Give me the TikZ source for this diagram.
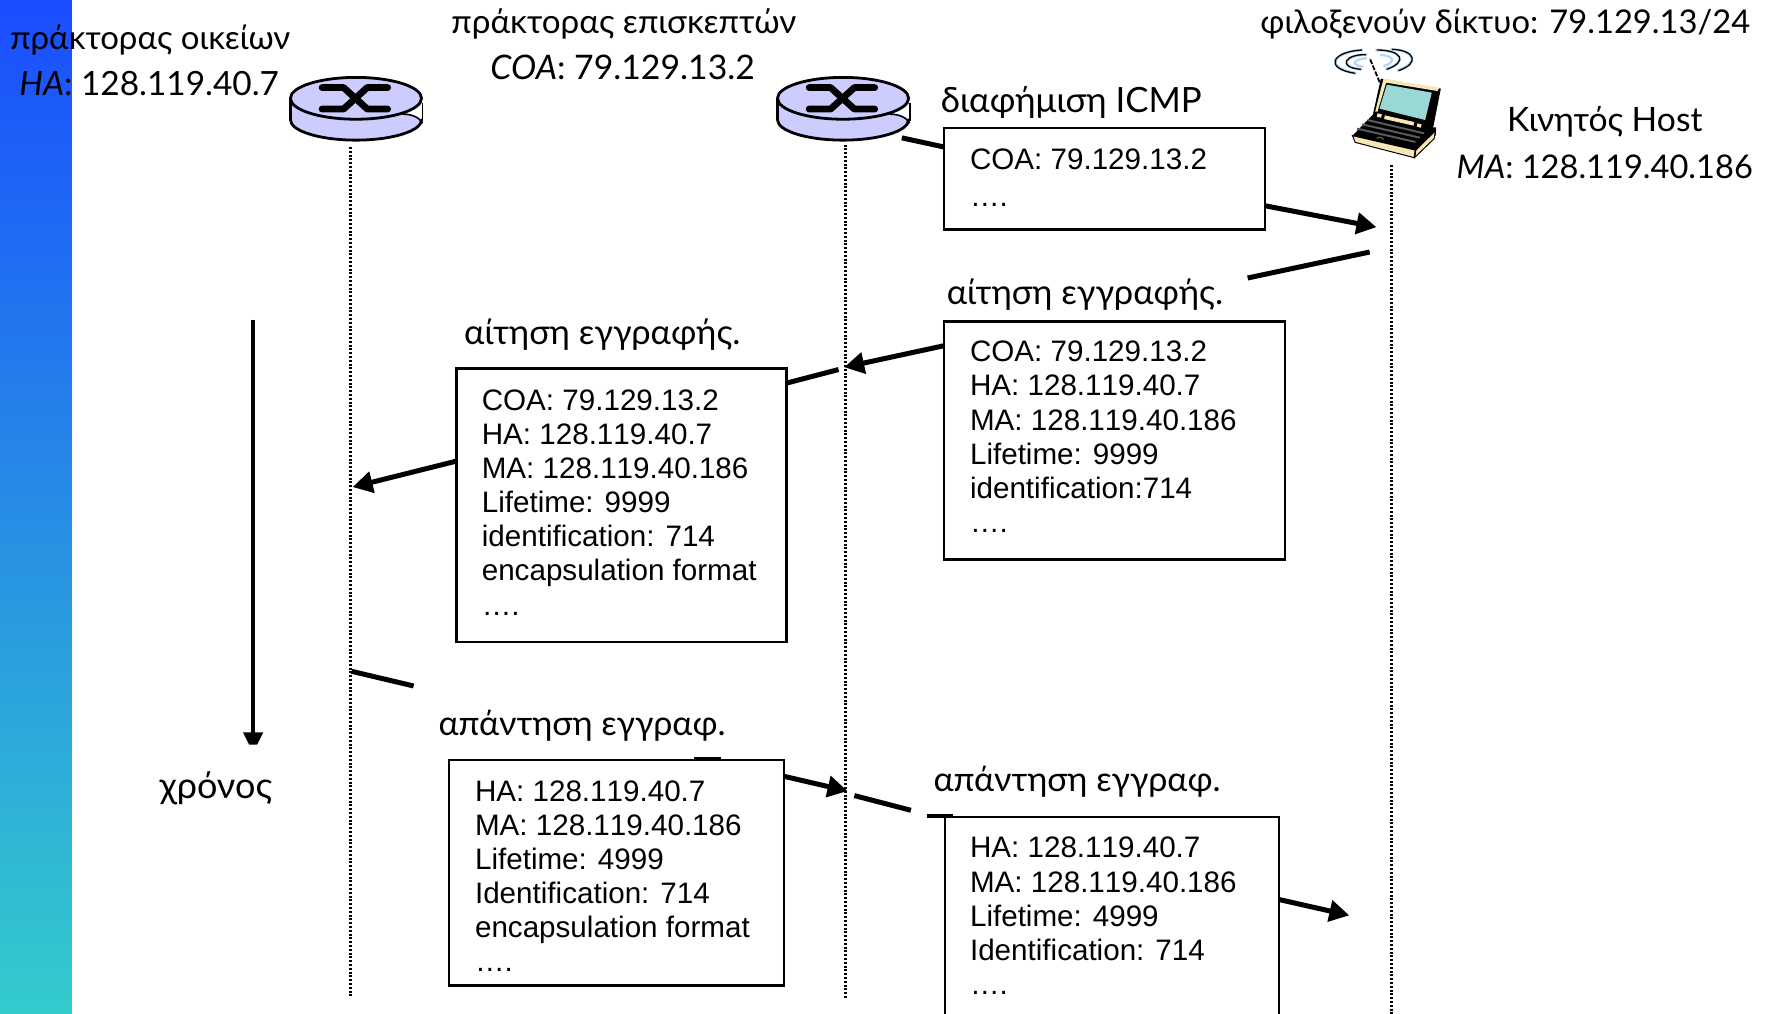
\documentclass[tikz,border=0pt]{standalone}
\usepackage{fontspec}
\setmainfont[Kerning=Off]{Liberation Sans}
\newfontfamily\handfont{Lato}
\usetikzlibrary{arrows.meta,fit}
\definecolor{barTop}{HTML}{1A4DFF}
\definecolor{barBot}{HTML}{33CCCC}
\definecolor{routerFill}{HTML}{CCCCFF}
\definecolor{lapCream}{HTML}{F7E7B5}
\definecolor{lapTeal}{HTML}{9AD8D6}
\definecolor{lapGrey}{HTML}{5A5A5A}
\definecolor{waveBlue}{HTML}{B5D5F0}
\tikzset{
  handlabel/.style={font=\handfont\fontsize{#1}{18}\selectfont,inner sep=0pt,text=black},
  msgbox/.style={draw=black,line width=1.1pt,fill=white,inner sep=0pt},
  msgtext/.style={font=\fontsize{14.8}{17.05}\selectfont,inner sep=0pt,align=left,anchor=north west},
  lifeline/.style={line width=1.5pt,dash pattern=on 1pt off 0.9pt},
  msgline/.style={line width=2.5pt},
  msgarrow/.style={line width=2.5pt,-{Triangle[length=10pt,width=10.5pt]}},
  timeline/.style={line width=2pt},
  router/.pic={
    \fill[routerFill] (-58,0) -- (-58,19) arc[start angle=180,end angle=0,x radius=58,y radius=18] -- (58,0) -- cycle;
    \fill[white] (59,3) -- (59,22) .. controls (56,17) and (50,14) .. (41,14) -- cycle;
    \draw[line width=1.4pt,line cap=round] (-58,0) -- (-58,19) arc[start angle=180,end angle=0,x radius=58,y radius=18];
    \draw[line width=0.8pt] (59,4) -- (59,20);
    \draw[line width=0.8pt] (41,14) .. controls (50,14) and (56,17) .. (59,22);
    \draw[line width=1.4pt,fill=routerFill] (0,0) ellipse[x radius=58,y radius=18.5];
    \draw[line width=3.4pt,line cap=round,line join=round] (-30,-9.5) -- (-11,-9.5) -- (10,9.5) -- (28,9.5);
    \draw[line width=3.4pt,line cap=round,line join=round] (-30,9.5) -- (-11,9.5) -- (10,-9.5) -- (28,-9.5);
  }
}
\begin{document}
\begin{tikzpicture}[x=0.565pt,y=-0.565pt]
\useasboundingbox (0,0) rectangle (1568,897);
\clip (0,0) rectangle (1568,897);
% side band
\shade[top color=barTop,bottom color=barBot] (0,0) rectangle (63.7,897);

% routers
\coordinate (r1) at (315,87);
\coordinate (r2) at (746,87);
\pic at (r1) {router};
\pic at (r2) {router};

% laptop
\begin{scope}[xshift=660pt,yshift=-20pt,x=0.16667pt,y=-0.16667pt]
  \foreach \c/\w/\o in {waveBlue/1.4pt/4,black/0.65pt/0}{
    \draw[\c,line width=\w] (125+\o,30) .. controls (35,35) and (10,85) .. (105+\o,100);
    \draw[\c,line width=\w] (138+\o,44) .. controls (75,42) and (50,82) .. (122+\o,88);
    \draw[\c,line width=\w] (215-\o,28) .. controls (285,30) and (300,70) .. (235-\o,92);
    \draw[\c,line width=\w] (170-\o,30) .. controls (245,30) and (265,65) .. (200-\o,88);
  }
  \draw[waveBlue,line width=1.1pt] (140,55) .. controls (105,55) and (85,75) .. (130,80);
  \draw[waveBlue,line width=1.1pt] (180,45) .. controls (220,45) and (230,68) .. (190,78);
  \draw[line width=0.9pt,dash pattern=on 2.5pt off 0.8pt] (150,58) -- (180,130);
  % base
  \fill[black] (160,222) -- (335,262) -- (347,262) -- (347,285) -- (285,337) -- (97,287) -- cycle;
  \fill[lapCream,draw=black,line width=0.5pt] (97,287) -- (285,330) -- (282,353) -- (105,307) -- cycle;
  \fill[lapCream,draw=black,line width=0.5pt] (287,330) -- (346,272) -- (342,296) -- (284,352) -- cycle;
  \foreach \d in {0,13,26}{
    \draw[lapGrey,line width=1pt] (142-\d*1.2,240+\d) -- (312-\d*1,280+\d);
  }
  \draw[lapGrey,line width=0.7pt] (170,295) .. controls (178,288) and (185,292) .. (190,298);
  % lid
  \fill[black] (182,116) -- (362,146) -- (338,268) -- (158,225) -- cycle;
  \fill[lapCream] (190,116) -- (358,143) -- (352,153) -- (198,128) -- (172,215) -- (165,215) -- cycle;
  \fill[lapTeal] (200,134) -- (335,158) -- (315,240) -- (178,206) -- cycle;
  \fill[lapCream] (172,220) -- (185,223) -- (183,233) -- (170,230) -- cycle;
  \fill[lapCream] (194,226) -- (282,246) -- (280,257) -- (192,237) -- cycle;
  \fill[lapCream] (292,250) -- (304,253) -- (302,263) -- (290,260) -- cycle;
\end{scope}

% life lines
\coordinate (l1a) at (310,130); \coordinate (l1b) at (310,883);
\coordinate (l2a) at (748,128); \coordinate (l2b) at (748,883);
\coordinate (l3a) at (1231,146); \coordinate (l3b) at (1231,897);
\draw[lifeline] (l1a) -- (l1b);
\draw[lifeline] (l2a) -- (l2b);
\draw[lifeline] (l3a) -- (l3b);

% small remains of the hidden connectors
\coordinate (s1a) at (614,671.5); \coordinate (s1b) at (638,671.5);
\coordinate (s2a) at (820,722); \coordinate (s2b) at (843,722);
\draw[line width=1.6pt] (s1a) -- (s1b);
\draw[line width=1.6pt] (s2a) -- (s2b);

% message boxes
\node[msgbox,fit={(835.5,113) (1119,203)}] (b1) {};
\node[msgbox,fit={(835.5,284.5) (1137,495)}] (b2) {};
\node[msgbox,fit={(404,326) (696,568)}] (b3) {};
\node[msgbox,fit={(397.5,672.5) (694,872)}] (b4) {};
\node[msgbox,fit={(836,723) (1132,905)}] (b5) {};

\node[msgtext] (t1) at (858,131) {COA: 79.129.13.2\\[1.6pt]….};
\node[msgtext] (t2) at (858,301.5) {COA: 79.129.13.2\\HA: 128.119.40.7\\MA: 128.119.40.186\\Lifetime: 9999\\identification:714\\….};
\node[msgtext] (t3) at (426,344.5) {COA: 79.129.13.2\\HA: 128.119.40.7\\MA: 128.119.40.186\\Lifetime: 9999\\identification: 714\\encapsulation format\\….};
\node[msgtext] (t4) at (420,690.5) {HA: 128.119.40.7\\MA: 128.119.40.186\\Lifetime: 4999\\Identification: 714\\encapsulation format\\….};
\node[msgtext] (t5) at (858,740.5) {HA: 128.119.40.7\\MA: 128.119.40.186\\Lifetime: 4999\\Identification: 714\\….};

% connectors
\coordinate (c1a) at (798,122); \coordinate (c1b) at (835,130);
\coordinate (c1c) at (1119,182); \coordinate (c1d) at (1218,201);
\draw[msgline] (c1a) -- (c1b);
\draw[msgarrow] (c1c) -- (c1d);

\coordinate (c2a) at (1212,223); \coordinate (c2b) at (1104,246);
\coordinate (c2c) at (835,306); \coordinate (c2d) at (747,325);
\coordinate (c2e) at (742,327); \coordinate (c2f) at (696,339);
\coordinate (c2g) at (404,408); \coordinate (c2h) at (312,431);
\draw[msgline] (c2a) -- (c2b);
\draw[msgarrow] (c2c) -- (c2d);
\draw[msgline] (c2e) -- (c2f);
\draw[msgarrow] (c2g) -- (c2h);

\coordinate (c3a) at (311,594); \coordinate (c3b) at (366,607);
\coordinate (c3c) at (694,687); \coordinate (c3d) at (750,700);
\coordinate (c3e) at (756,704); \coordinate (c3f) at (806,717);
\coordinate (c3g) at (1132,796); \coordinate (c3h) at (1194,810);
\draw[msgline] (c3a) -- (c3b);
\draw[msgarrow] (c3c) -- (c3d);
\draw[msgline] (c3e) -- (c3f);
\draw[msgarrow] (c3g) -- (c3h);

% time arrow
\coordinate (ta) at (224,283); \coordinate (tb) at (224,650);
\draw[timeline] (ta) -- (tb);
\fill (215,648) -- (233,648) -- (227.5,659) -- (220.5,659) -- cycle;

% labels
\node[handlabel=16.5] (n1) at (133,35.5) {πράκτορας οικείων};
\node[handlabel=16.7] (n2) at (132,74) {\textit{HA}: 128.119.40.7};
\node[handlabel=16.6] (n3) at (552,21) {πράκτορας επισκεπτών};
\node[handlabel=16.9] (n4) at (551,60) {\textit{COA}: 79.129.13.2};
\node[handlabel=16.35] (n5) at (1332,21) {φιλοξενούν δίκτυο: 79.129.13/24};
\node[handlabel=16.8] (n6) at (1420,108) {Κινητός Host};
\node[handlabel=16.3] (n7) at (1420,148) {\textit{MA}: 128.119.40.186};
\node[handlabel=17.4] (n8) at (948,90.5) {διαφήμιση ICMP};
\node[handlabel=17.2] (n9) at (960,260.5) {αίτηση εγγραφής.};
\node[handlabel=17.2] (n10) at (533,296.5) {αίτηση εγγραφής.};
\node[handlabel=17] (n11) at (515,642) {απάντηση εγγραφ.};
\node[handlabel=17] (n12) at (953,692) {απάντηση εγγραφ.};
\node[handlabel=18] (n13) at (191,697.5) {χρόνος};
\end{tikzpicture}
\end{document}
